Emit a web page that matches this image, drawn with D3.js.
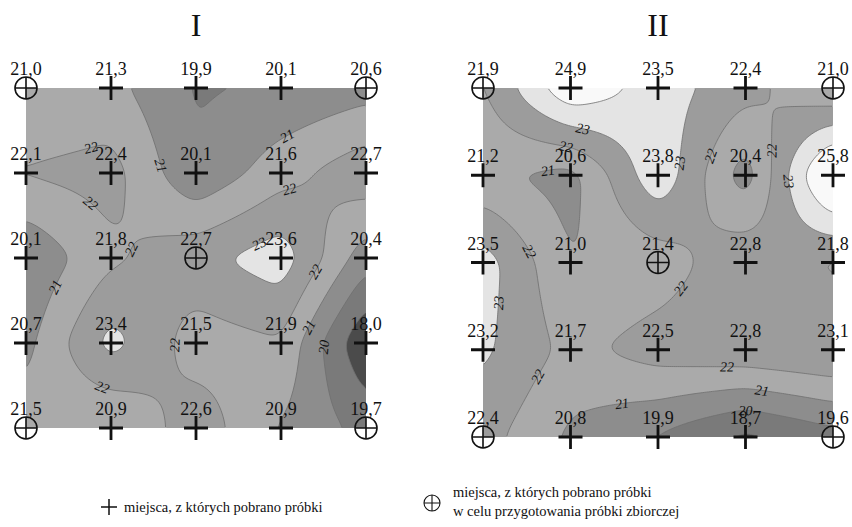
<!DOCTYPE html>
<html>
<head>
<meta charset="utf-8">
<script src="https://cdn.jsdelivr.net/npm/d3@7"></script>
<style>
  body { margin: 0; background: #fff; }
  svg { display: block; font-family: "Liberation Serif", "DejaVu Serif", serif; }
</style>
</head>
<body>
<div id="chart"></div>
<script>
// measured values at the 5x5 sampling grid (rows top -> bottom)
var valuesI = [
    [21.0, 21.3, 19.9, 20.1, 20.6],
    [22.1, 22.4, 20.1, 21.6, 22.7],
    [20.1, 21.8, 22.7, 23.6, 20.4],
    [20.7, 23.4, 21.5, 21.9, 18.0],
    [21.5, 20.9, 22.6, 20.9, 19.7]
];
var valuesII = [
    [21.9, 24.9, 23.5, 22.4, 21.0],
    [21.2, 20.6, 23.8, 20.4, 25.8],
    [23.5, 21.0, 21.4, 22.8, 21.8],
    [23.2, 21.7, 22.5, 22.8, 23.1],
    [22.4, 20.8, 19.9, 18.7, 19.6]
];
var panelTitles = ["I", "II"];
// grid cells (col,row) where samples for the composite sample were taken
var compositeSites = [[0, 0], [4, 0], [2, 2], [0, 4], [4, 4]];
// contour thresholds and band fills
var thresholds = [0, 18, 19, 20, 21, 22, 23, 24];
var bandColors = ["#3a3a3a", "#4b4b4b", "#7a7a7a", "#8d8d8d", "#aaaaaa", "#9c9c9c", "#e4e4e4", "#f9f9f9"];
var labelledLevels = [20, 21, 22, 23];
var legendText1 = "miejsca, z których pobrano próbki";
var legendText2 = ["miejsca, z których pobrano próbki", "w celu przygotowania próbki zbiorczej"];

var W = 852, H = 527;
var svg = d3.select("#chart").append("svg")
    .attr("width", W)
    .attr("height", H);

var panels = [
    { values: valuesI, title: panelTitles[0], x0: 26, y0: 88, w: 340, h: 340, tx: 196 },
    { values: valuesII, title: panelTitles[1], x0: 483, y0: 88, w: 350, h: 349, tx: 658 }
];

var N = 170;       // rendering surface resolution
var SIGMA = 3.6;   // smoothing, in surface cells

// bilinear surface through the grid values, then gaussian smoothed (rendering only)
function bilinear(vals, u, v) {
    var n = vals.length - 1;
    var i = Math.min(Math.floor(u), n - 1), j = Math.min(Math.floor(v), n - 1);
    var tu = u - i, tv = v - j;
    var a = vals[j][i] * (1 - tu) + vals[j][i + 1] * tu;
    var b = vals[j + 1][i] * (1 - tu) + vals[j + 1][i + 1] * tu;
    return a * (1 - tv) + b * tv;
}
function smooth(grid) {
    var R = Math.ceil(SIGMA * 3), kern = [], s = 0;
    for (var k = -R; k <= R; k++) { var wv = Math.exp(-k * k / (2 * SIGMA * SIGMA)); kern.push(wv); s += wv; }
    kern = kern.map(function (v) { return v / s; });
    var tmp = new Array(N * N), out = new Array(N * N);
    for (var r = 0; r < N; r++) for (var c = 0; c < N; c++) {
        var acc = 0;
        for (var k = -R; k <= R; k++) acc += kern[k + R] * grid[r * N + Math.max(0, Math.min(N - 1, c + k))];
        tmp[r * N + c] = acc;
    }
    for (var r = 0; r < N; r++) for (var c = 0; c < N; c++) {
        var acc = 0;
        for (var k = -R; k <= R; k++) acc += kern[k + R] * tmp[Math.max(0, Math.min(N - 1, r + k)) * N + c];
        out[r * N + c] = acc;
    }
    return out;
}

panels.forEach(function (p, pi) {
    var x = d3.scaleLinear().domain([0, 4]).range([p.x0, p.x0 + p.w]);
    var y = d3.scaleLinear().domain([0, 4]).range([p.y0, p.y0 + p.h]);

    var grid = new Array(N * N);
    for (var r = 0; r < N; r++) {
        for (var c = 0; c < N; c++) {
            grid[r * N + c] = bilinear(p.values, (c + 0.5) / N * 4, (r + 0.5) / N * 4);
        }
    }
    grid = smooth(grid);
    var contours = d3.contours().size([N, N]).thresholds(thresholds)(grid);

    var gx = d3.scaleLinear().domain([0, N]).range([p.x0, p.x0 + p.w]);
    var gy = d3.scaleLinear().domain([0, N]).range([p.y0, p.y0 + p.h]);
    var path = d3.geoPath(d3.geoTransform({
        point: function (px, py) { this.stream.point(gx(px), gy(py)); }
    }));

    var g = svg.append("g");

    // filled bands
    g.selectAll("path.band")
        .data(contours)
        .enter().append("path")
        .attr("class", "band")
        .attr("d", path)
        .attr("fill", function (d, i) { return bandColors[i]; });

    // contour lines, clipped so the square's border is not stroked
    svg.append("clipPath").attr("id", "clip" + pi)
        .append("rect")
        .attr("x", p.x0 + 1).attr("y", p.y0 + 1)
        .attr("width", p.w - 2).attr("height", p.h - 2);
    g.append("g").attr("clip-path", "url(#clip" + pi + ")")
        .selectAll("path.iso")
        .data(contours.slice(1))
        .enter().append("path")
        .attr("class", "iso")
        .attr("d", path)
        .attr("fill", "none")
        .attr("stroke", "#6f6f6f")
        .attr("stroke-width", 0.8);

    // contour labels along interior runs of each ring
    contours.forEach(function (ct) {
        if (labelledLevels.indexOf(ct.value) < 0) return;
        ct.coordinates.forEach(function (poly) {
            poly.forEach(function (ring) {
                var onEdge = ring.map(function (q) {
                    return q[0] <= 0.01 || q[1] <= 0.01 || q[0] >= N - 0.01 || q[1] >= N - 0.01;
                });
                var start = onEdge.indexOf(true);
                var pts = ring.slice(0, -1);
                var flags = onEdge.slice(0, -1);
                if (start > 0) {
                    pts = pts.slice(start).concat(pts.slice(0, start));
                    flags = flags.slice(start).concat(flags.slice(0, start));
                }
                var runs = [], cur = [];
                pts.forEach(function (q, k) {
                    if (flags[k]) { if (cur.length) runs.push(cur); cur = []; }
                    else cur.push([gx(q[0]), gy(q[1])]);
                });
                if (cur.length) runs.push(cur);
                runs.forEach(function (run) {
                    var len = 0, acc = [0];
                    for (var k = 1; k < run.length; k++) {
                        len += Math.hypot(run[k][0] - run[k - 1][0], run[k][1] - run[k - 1][1]);
                        acc.push(len);
                    }
                    if (len < 80) return;
                    var count = Math.floor(len / 220) + 1;
                    for (var li = 0; li < count; li++) {
                        var at = d3.bisectLeft(acc, len * (li + 0.5) / count);
                        var a = run[Math.max(0, at - 3)], b = run[Math.min(run.length - 1, at + 3)];
                        var ang = Math.atan2(b[1] - a[1], b[0] - a[0]) * 180 / Math.PI;
                        if (ang > 90) ang -= 180;
                        if (ang < -90) ang += 180;
                        g.append("text")
                            .attr("transform", "translate(" + run[at][0] + "," + run[at][1] + ")rotate(" + ang + ")")
                            .attr("text-anchor", "middle")
                            .attr("dy", "0.35em")
                            .style("font-size", "14px")
                            .style("font-style", "italic")
                            .attr("fill", "#111")
                            .text(ct.value);
                    }
                });
            });
        });
    });

    // sampling sites
    var sites = [];
    p.values.forEach(function (row, r) {
        row.forEach(function (v, c) {
            var comp = compositeSites.some(function (s) { return s[0] === c && s[1] === r; });
            sites.push({ c: c, r: r, v: v, comp: comp });
        });
    });

    var m = g.selectAll("g.site")
        .data(sites)
        .enter().append("g")
        .attr("class", "site")
        .attr("transform", function (d) { return "translate(" + x(d.c) + "," + y(d.r) + ")"; });

    m.filter(function (d) { return !d.comp; })
        .append("path")
        .attr("d", "M-12,0H12M0,-12V12")
        .attr("stroke", "#111")
        .attr("stroke-width", 2.8);

    var cp = m.filter(function (d) { return d.comp; });
    cp.append("circle")
        .attr("r", 11)
        .attr("fill", "none")
        .attr("stroke", "#111")
        .attr("stroke-width", 1.6);
    cp.append("path")
        .attr("d", "M-11,0H11M0,-11V11")
        .attr("stroke", "#111")
        .attr("stroke-width", 1.6);

    m.append("text")
        .attr("y", -13)
        .attr("text-anchor", "middle")
        .style("font-size", "18px")
        .attr("fill", "#111")
        .text(function (d) { return d.v.toFixed(1).replace(".", ","); });

    // title
    svg.append("text")
        .attr("x", p.tx)
        .attr("y", 36)
        .attr("text-anchor", "middle")
        .style("font-size", "32px")
        .attr("fill", "#111")
        .text(p.title);
});

// legend
var leg = svg.append("g");
leg.append("path")
    .attr("d", "M101,507H117M109,499V515")
    .attr("stroke", "#111")
    .attr("stroke-width", 1.5);
leg.append("text")
    .attr("x", 124).attr("y", 512)
    .style("font-size", "14.5px")
    .attr("fill", "#111")
    .text(legendText1);
leg.append("circle")
    .attr("cx", 432).attr("cy", 503).attr("r", 8)
    .attr("fill", "none").attr("stroke", "#111").attr("stroke-width", 1.1);
leg.append("path")
    .attr("d", "M424,503H440M432,495V511")
    .attr("stroke", "#111").attr("stroke-width", 1.1);
leg.selectAll("text.l2")
    .data(legendText2)
    .enter().append("text")
    .attr("class", "l2")
    .attr("x", 453)
    .attr("y", function (d, i) { return 497 + i * 19; })
    .style("font-size", "14.5px")
    .attr("fill", "#111")
    .text(function (d) { return d; });
</script>
</body>
</html>
